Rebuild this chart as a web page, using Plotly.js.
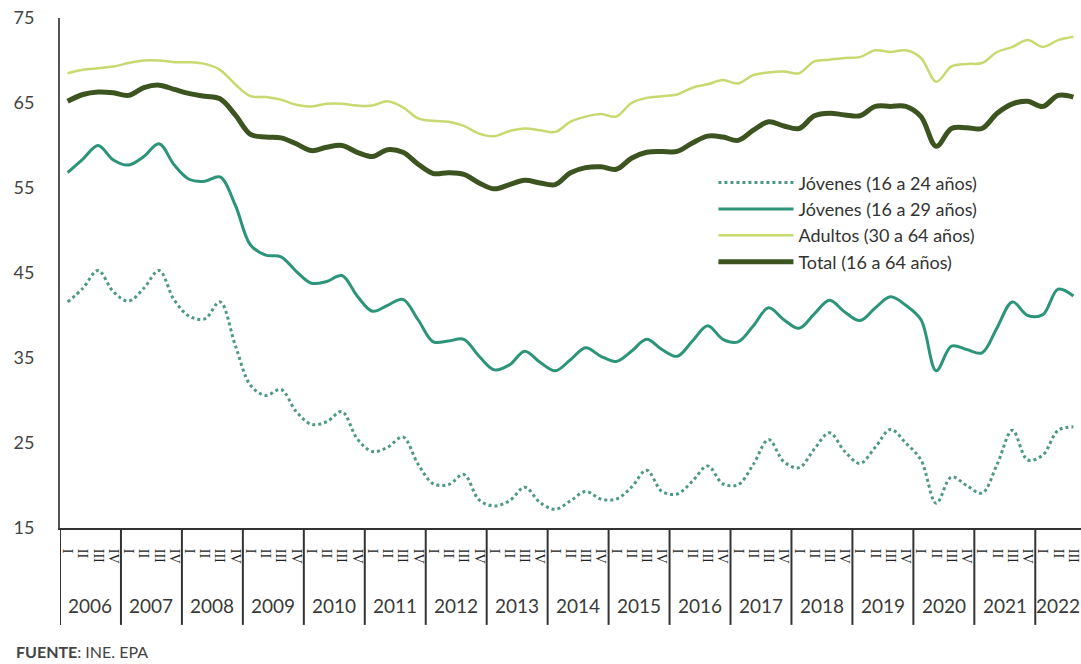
<!DOCTYPE html>
<html>
<head>
<meta charset="utf-8">
<script src="https://cdn.plot.ly/plotly-3.0.1.min.js"></script>
<style>html,body{margin:0;padding:0;background:#fff;}#chart{width:1081px;height:664px;}</style>
</head>
<body>
<div id="chart"></div>
<script>
const years = ["2006","2007","2008","2009","2010","2011","2012","2013","2014","2015","2016","2017","2018","2019","2020","2021","2022"];
const quarters = ["I","II","III","IV"];
const lastYearQuarters = 3;

const jovenes1624 = [41.6,43.2,45.3,42.8, 41.7,43.2,45.3,41.8, 39.9,39.6,41.6,36.5, 31.8,30.6,31.3,28.7,
  27.2,27.5,28.7,25.5, 24.0,24.5,25.7,22.5, 20.2,20.1,21.3,18.3, 17.6,18.2,19.8,18.0, 17.2,18.2,19.3,18.4,
  18.4,19.8,21.8,19.3, 19.0,20.5,22.3,20.2, 20.1,22.5,25.4,22.8, 22.1,24.3,26.2,24.0, 22.6,24.5,26.6,25.0,
  23.0,17.9,21.0,20.0, 19.1,22.5,26.5,23.0, 23.6,26.5,26.9];
const jovenes1629 = [56.8,58.4,60.0,58.3, 57.7,58.7,60.2,57.7, 56.0,55.8,56.3,53.0, 48.3,47.1,46.9,45.2,
  43.8,44.0,44.7,42.3, 40.5,41.2,41.9,39.5, 36.9,37.0,37.2,35.2, 33.6,34.2,35.8,34.5, 33.5,34.8,36.2,35.2,
  34.6,35.8,37.2,36.0, 35.2,37.0,38.8,37.2, 36.9,38.8,40.9,39.5, 38.5,40.2,41.8,40.4, 39.4,40.9,42.2,41.2,
  39.5,33.5,36.4,36.0, 35.6,38.6,41.6,40.0, 40.1,43.1,42.3];
const adultos = [68.5,68.9,69.1,69.3, 69.7,70.0,70.0,69.8, 69.8,69.6,68.9,67.2, 65.8,65.7,65.4,64.8,
  64.6,64.9,64.9,64.7, 64.7,65.2,64.5,63.2, 62.9,62.8,62.3,61.4, 61.1,61.7,62.0,61.8, 61.6,62.8,63.4,63.7,
  63.4,65.0,65.6,65.8, 66.0,66.8,67.2,67.7, 67.3,68.3,68.6,68.7, 68.5,69.9,70.1,70.3, 70.4,71.2,71.0,71.2,
  70.3,67.5,69.3,69.6, 69.7,71.0,71.6,72.4, 71.6,72.4,72.8];
const total = [65.2,66.0,66.3,66.2, 65.9,66.8,67.1,66.6, 66.1,65.8,65.5,63.6, 61.3,61.0,60.9,60.2,
  59.4,59.8,60.0,59.2, 58.7,59.5,59.2,57.8, 56.7,56.8,56.6,55.6, 54.9,55.4,55.9,55.6, 55.4,56.8,57.4,57.5,
  57.2,58.5,59.2,59.3, 59.3,60.3,61.1,61.0, 60.6,61.8,62.8,62.3, 62.0,63.5,63.8,63.6, 63.5,64.6,64.6,64.6,
  63.4,59.9,62.0,62.1, 62.0,63.8,64.9,65.2, 64.6,65.9,65.7];

const seriesNames = ["Jóvenes (16 a 24 años)","Jóvenes (16 a 29 años)","Adultos (30 a 64 años)","Total (16 a 64 años)"];

// category x axis: one category per quarter, labelled with the roman quarter
const xCats = [], xQ = [];
const yearSpans = [];
years.forEach((y, yi) => {
  const nq = (yi === years.length - 1) ? lastYearQuarters : 4;
  const start = xCats.length;
  for (let q = 0; q < nq; q++) { xCats.push(y + " " + quarters[q]); xQ.push(quarters[q]); }
  yearSpans.push({year: y, start: start, n: nq});
});

const traces = [
  {x: xCats, y: jovenes1624, name: seriesNames[0], legendgroup: 'a', mode: 'lines', line: {color: '#4e9888', width: 3, dash: 'dot', shape: 'spline'}},
  {x: xCats, y: jovenes1629, name: seriesNames[1], legendgroup: 'b', mode: 'lines', line: {color: '#2b9479', width: 3, shape: 'spline'}},
  {x: xCats, y: adultos, name: seriesNames[2], legendgroup: 'c', mode: 'lines', line: {color: '#c6da70', width: 2.5, shape: 'spline'}},
  {x: xCats, y: total, name: seriesNames[3], legendgroup: 'd', mode: 'lines', line: {color: '#3c5420', width: 5, shape: 'spline'}}
];

const dividerBottom = -0.19;
const shapes = yearSpans.map(s => ({
  type: 'line', xref: 'x', yref: 'paper',
  x0: s.start - 0.5, x1: s.start - 0.5, y0: 0, y1: dividerBottom,
  line: {color: '#333', width: 2}
}));

const annotations = yearSpans.map(s => ({
  xref: 'x', yref: 'paper', x: s.start + (s.n - 1) / 2, y: -0.151,
  xanchor: 'center', yanchor: 'middle', showarrow: false,
  text: s.year, font: {size: 19, color: '#3a3a3a', family: 'Lato, "Open Sans", sans-serif'}
}));
annotations.push({
  xref: 'paper', yref: 'paper', x: -0.045, y: -0.243, xanchor: 'left', yanchor: 'middle',
  text: '<b>FUENTE</b>: INE. EPA', showarrow: false, font: {size: 16, color: '#444'}
});

const layout = {
  width: 1081, height: 664,
  margin: {l: 60, r: 0, t: 18, b: 136},
  paper_bgcolor: '#fff', plot_bgcolor: '#fff',
  font: {family: 'Lato, "Open Sans", sans-serif', color: '#444'},
  showlegend: true,
  legend: {x: 0.64, y: 0.713, xanchor: 'left', yanchor: 'top', font: {size: 18, color: '#333'},
           bgcolor: 'rgba(0,0,0,0)', itemwidth: 75, tracegroupgap: 6, traceorder: 'normal'},
  xaxis: {
    type: 'category',
    range: [-0.5, xCats.length - 0.5],
    tickmode: 'array', tickvals: xCats, ticktext: xQ,
    showline: true, linecolor: '#333', linewidth: 2,
    showgrid: false, zeroline: false,
    tickangle: 90,
    tickfont: {size: 14, color: '#222', family: '"Liberation Serif", serif'},
    ticks: '', ticklabelstandoff: 16
  },
  yaxis: {
    range: [15, 75], dtick: 10, tick0: 15,
    showline: true, linecolor: '#555', linewidth: 2,
    showgrid: false, zeroline: false, ticks: '',
    tickfont: {size: 18, color: '#444'},
    ticklabelstandoff: 20
  },
  shapes: shapes,
  annotations: annotations
};

Plotly.newPlot('chart', traces, layout, {displayModeBar: false});
</script>
</body>
</html>
